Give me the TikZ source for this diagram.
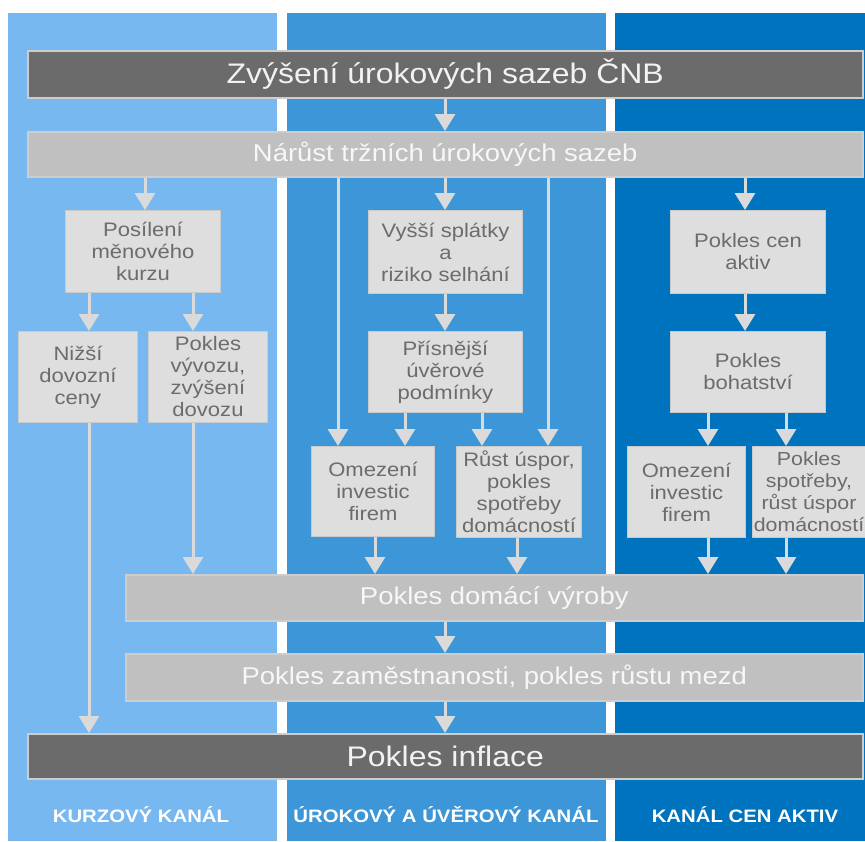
\documentclass[tikz,border=0pt]{standalone}
\usepackage{fontspec}
\setmainfont[FakeStretch=1.13]{Liberation Sans}
\usetikzlibrary{arrows.meta,calc}
\definecolor{panelA}{HTML}{78B8F0}
\definecolor{panelB}{HTML}{3D96D7}
\definecolor{panelC}{HTML}{0073BE}
\definecolor{boxfill}{HTML}{DEDEDE}
\definecolor{boxline}{HTML}{CACACA}
\definecolor{boxtext}{HTML}{6E6C6A}
\definecolor{darkfill}{HTML}{6B6B6B}
\definecolor{darkline}{HTML}{CDCDCD}
\definecolor{midfill}{HTML}{C0C0C0}
\definecolor{arrcol}{HTML}{DADADA}
\begin{document}
\begin{tikzpicture}[x=1pt,y=-1pt,
  box/.style={draw=boxline, fill=boxfill, line width=1pt, text=boxtext, align=center,
    inner sep=0pt, anchor=north west, font=\fontsize{19.5}{22}\selectfont},
  darkbox/.style={draw=darkline, fill=darkfill, line width=1.5pt, text=white!95!black,
    inner sep=0pt, anchor=north west, minimum width=835pt, font=\fontsize{28.3}{28}\selectfont},
  midbox/.style={draw=darkline, fill=midfill, line width=1.5pt, text=white!97!black,
    inner sep=0pt, anchor=north west, font=\fontsize{24.3}{24}\selectfont},
  arr/.style={draw=arrcol, line width=3pt, -{Triangle[width=20pt,length=17pt]}},
  lab/.style={text=white, font=\bfseries\fontsize{18}{18}\selectfont}]
\useasboundingbox (0,0) rectangle (865,841);
\fill[white] (0,0) rectangle (865,841);
% panels
\fill[panelA] (8,13) rectangle (277,841);
\fill[panelB] (287,13) rectangle (606,841);
\fill[panelC] (615,13) rectangle (865,841);
% main boxes
\node[darkbox, minimum height=47pt] (top) at (27,50) {Zvýšení úrokových sazeb ČNB};
\node[midbox, minimum width=835pt, minimum height=45pt] (nar) at (27,131) {Nárůst tržních úrokových sazeb};
% kurzovy kanal
\node[box, minimum width=155pt, minimum height=82pt] (pos) at (65,210) {Posílení\\měnového\\kurzu};
\node[box, minimum width=119pt, minimum height=91pt] (niz) at (18,331) {Nižší\\dovozní\\ceny};
\node[box, minimum width=119pt, minimum height=91pt] (vyv) at (148,331) {Pokles\\vývozu,\\zvýšení\\dovozu};
% urokovy kanal
\node[box, minimum width=154pt, minimum height=83pt] (vys) at (368,210) {Vyšší splátky\\a\\riziko selhání};
\node[box, minimum width=154pt, minimum height=81pt] (pri) at (368,331) {Přísnější\\úvěrové\\podmínky};
\node[box, minimum width=123pt, minimum height=90pt] (om1) at (311,446) {Omezení\\investic\\firem};
\node[box, minimum width=125pt, minimum height=91pt] (rus) at (456,446) {Růst úspor,\\pokles\\spotřeby\\domácností};
% kanal cen aktiv
\node[box, minimum width=155pt, minimum height=83pt] (pca) at (670,210) {Pokles cen\\aktiv};
\node[box, minimum width=155pt, minimum height=81pt] (boh) at (670,331) {Pokles\\bohatství};
\node[box, minimum width=118pt, minimum height=91pt] (om2) at (627,446) {Omezení\\investic\\firem};
\node[box, minimum width=113pt, minimum height=91pt, font=\fontsize{18.9}{22}\selectfont] (psp) at (752,446) {Pokles\\spotřeby,\\růst úspor\\domácností};
% lower boxes
\node[midbox, minimum width=737pt, minimum height=46pt] (pdv) at (125,574) {Pokles domácí výroby};
\node[midbox, minimum width=737pt, minimum height=47pt] (pza) at (125,653) {Pokles zaměstnanosti, pokles růstu mezd};
\node[darkbox, minimum height=45pt] (pin) at (27,733) {Pokles inflace};
% arrows
\draw[arr] (top.south -| 445,0) -- (nar.north -| 445,0);
\draw[arr] (nar.south -| 145,0) -- (pos.north -| 145,0);
\draw[arr] (nar.south -| 338,0) -- (om1.north -| 338,0);
\draw[arr] (nar.south -| 445,0) -- (vys.north -| 445,0);
\draw[arr] (nar.south -| 548,0) -- (rus.north -| 548,0);
\draw[arr] (nar.south -| 745,0) -- (pca.north -| 745,0);
\draw[arr] (pos.south -| 89,0) -- (niz.north -| 89,0);
\draw[arr] (pos.south -| 193,0) -- (vyv.north -| 193,0);
\draw[arr] (niz.south -| 89,0) -- (pin.north -| 89,0);
\draw[arr] (vyv.south -| 193,0) -- (pdv.north -| 193,0);
\draw[arr] (vys.south -| 445,0) -- (pri.north -| 445,0);
\draw[arr] (pri.south -| 405,0) -- (om1.north -| 405,0);
\draw[arr] (pri.south -| 482,0) -- (rus.north -| 482,0);
\draw[arr] (om1.south -| 375,0) -- (pdv.north -| 375,0);
\draw[arr] (rus.south -| 517,0) -- (pdv.north -| 517,0);
\draw[arr] (pca.south -| 745,0) -- (boh.north -| 745,0);
\draw[arr] (boh.south -| 708,0) -- (om2.north -| 708,0);
\draw[arr] (boh.south -| 786,0) -- (psp.north -| 786,0);
\draw[arr] (om2.south -| 708,0) -- (pdv.north -| 708,0);
\draw[arr] (psp.south -| 786,0) -- (pdv.north -| 786,0);
\draw[arr] (pdv.south -| 445,0) -- (pza.north -| 445,0);
\draw[arr] (pza.south -| 445,0) -- (pin.north -| 445,0);
% channel labels
\node[lab] (la) at (141,815) {KURZOVÝ KANÁL};
\node[lab] (lb) at (446,815) {ÚROKOVÝ A ÚVĚROVÝ KANÁL};
\node[lab] (lc) at (745,815) {KANÁL CEN AKTIV};
\end{tikzpicture}
\end{document}
